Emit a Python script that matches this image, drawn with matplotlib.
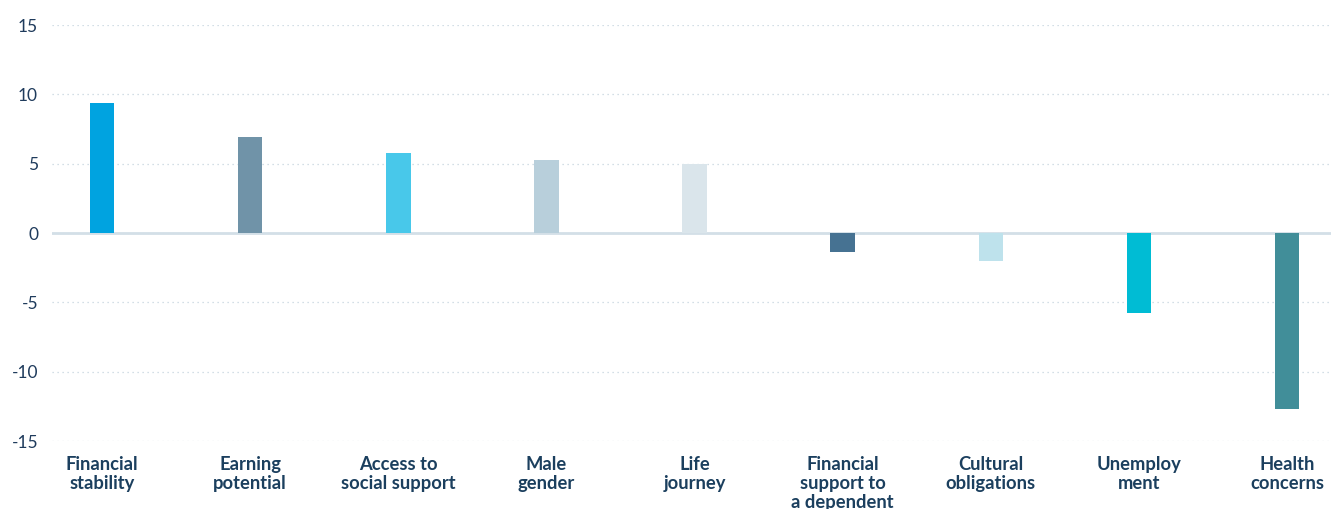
import matplotlib
matplotlib.use("Agg")
import matplotlib.pyplot as plt
import numpy as np

categories = ["Financial\nstability", "Earning\npotential", "Access to\nsocial support",
              "Male\ngender", "Life\njourney", "Financial\nsupport to\na dependent",
              "Cultural\nobligations", "Unemploy\nment", "Health\nconcerns"]
values = [9.4, 6.9, 5.8, 5.3, 5.0, -1.4, -2.0, -5.8, -12.7]
colors = ["#00A3E0", "#7093A8", "#48C8EA", "#B8CFDB", "#DAE5EB",
          "#467292", "#BEE2EC", "#00BCD4", "#418E99"]
yticks = [-15, -10, -5, 0, 5, 10, 15]

W, H = 1331, 509
fig = plt.figure(figsize=(W / 100, H / 100), dpi=100)
ax = fig.add_axes([52 / W, (H - 441) / H, 1 - 52 / W, (441 - 25) / H])

x = np.arange(len(categories))
ax.bar(x, values, width=0.165, color=colors, zorder=3)

ax.set_ylim(-15, 15)
ax.set_xlim(-0.338, len(categories) - 1 + 0.297)
ax.set_yticks(yticks)
ax.set_yticklabels([str(v) for v in yticks])
ax.set_xticks(x)
ax.set_xticklabels(categories, fontsize=13.2, fontweight="bold", color="#1B3F5E",
                   family="Lato", linespacing=1.12, va="top")

for s in ax.spines.values():
    s.set_visible(False)
ax.tick_params(axis="both", length=0)
ax.tick_params(axis="y", pad=10, labelsize=12.5, labelcolor="#1F3B5C")
ax.tick_params(axis="x", pad=11)
for lab in ax.get_yticklabels():
    lab.set_family("Lato")

ax.grid(axis="y", linestyle=(0, (1, 3)), color="#C5D4DE", linewidth=0.9, zorder=0)
ax.grid(axis="x", visible=False)
ax.axhline(0, color="#D3DFE7", linewidth=2, zorder=2)
ax.set_clip_on(False)

fig.savefig("out.png", dpi=100)
